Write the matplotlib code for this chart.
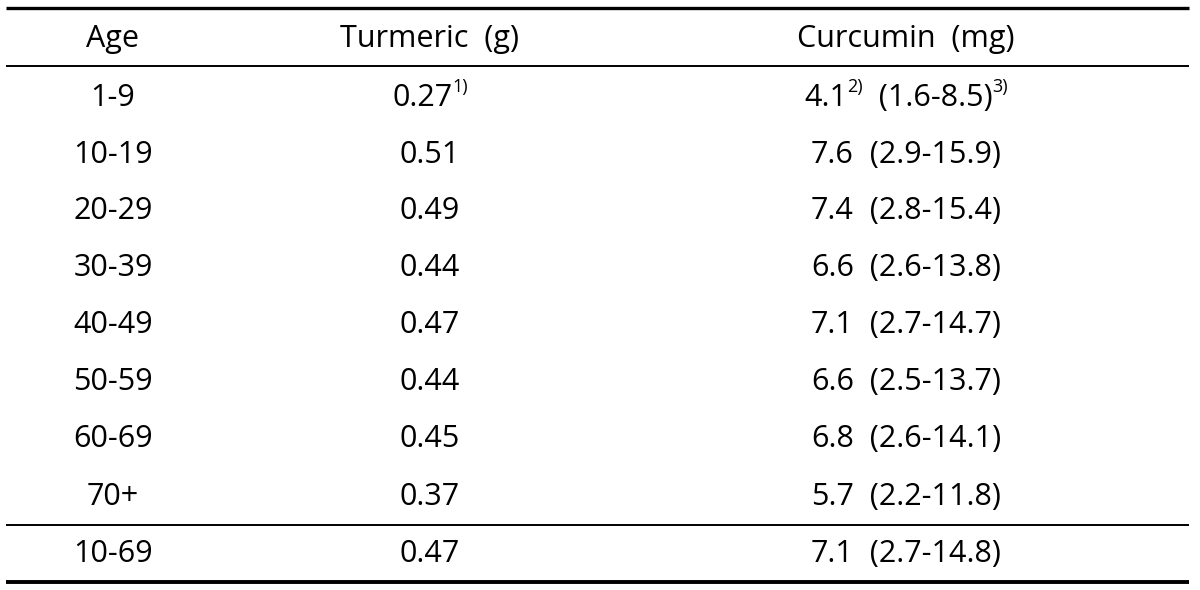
import matplotlib
matplotlib.use("Agg")
import matplotlib.pyplot as plt

# Tabellendaten
ages = ["1-9", "10-19", "20-29", "30-39", "40-49", "50-59", "60-69", "70+", "10-69"]
turmeric = ["0.27", "0.51", "0.49", "0.44", "0.47", "0.44", "0.45", "0.37", "0.47"]
curc_mean = ["4.1", "7.6", "7.4", "6.6", "7.1", "6.6", "6.8", "5.7", "7.1"]
curc_lo = ["1.6", "2.9", "2.8", "2.6", "2.7", "2.5", "2.6", "2.2", "2.7"]
curc_hi = ["8.5", "15.9", "15.4", "13.8", "14.7", "13.7", "14.1", "11.8", "14.8"]
headers = ["Age", "Turmeric  (g)", "Curcumin  (mg)"]
# Fussnoten nur in der ersten Zeile
notes_turm = ["1)"] + [""] * 8
notes_mean = ["2)"] + [""] * 8
notes_range = ["3)"] + [""] * 8

plt.rcParams["font.family"] = ["Open Sans", "DejaVu Sans"]
FS = 22
FS_SUP = 13

fig = plt.figure(figsize=(12, 5.9), dpi=100)
ax = fig.add_axes([0, 0, 1, 1])
ax.set_xlim(0, 1200)
ax.set_ylim(590, 0)
ax.axis("off")

col_x = [113, 430, 906]
row_y = [98, 155, 211, 268, 325, 382, 439, 497, 554]
header_y = 39

fig.canvas.draw()
renderer = fig.canvas.get_renderer()


def text_width(s, size):
    t = ax.text(0, 0, s, fontsize=size)
    w = t.get_window_extent(renderer).width
    t.remove()
    return w


def draw_pieces(xc, y, pieces):
    # pieces: Liste aus (text, superscript?)
    widths = [text_width(s, FS_SUP if sup else FS) if s else 0 for s, sup in pieces]
    x = xc - sum(widths) / 2
    for (s, sup), w in zip(pieces, widths):
        if not s:
            continue
        if sup:
            ax.text(x, y - 11, s, fontsize=FS_SUP, ha="left", va="center")
        else:
            ax.text(x, y, s, fontsize=FS, ha="left", va="center")
        x += w


for xc, h in zip(col_x, headers):
    ax.text(xc, header_y, h, fontsize=FS, ha="center", va="center")

for i in range(len(ages)):
    y = row_y[i]
    ax.text(col_x[0], y, ages[i], fontsize=FS, ha="center", va="center")
    draw_pieces(col_x[1], y, [(turmeric[i], False), (notes_turm[i], True)])
    draw_pieces(col_x[2], y, [(curc_mean[i], False), (notes_mean[i], True),
                              (f"  ({curc_lo[i]}-{curc_hi[i]})", False),
                              (notes_range[i], True)])

# Linien
x0, x1 = 6, 1189
ax.plot([x0, x1], [8, 8], color="black", lw=2.4, solid_capstyle="butt")
ax.plot([x0, x1], [66, 66], color="black", lw=1.4, solid_capstyle="butt")
ax.plot([x0, x1], [525, 525], color="black", lw=1.4, solid_capstyle="butt")
ax.plot([x0, x1], [582, 582], color="black", lw=2.8, solid_capstyle="butt")

fig.savefig("out.png", dpi=100)
